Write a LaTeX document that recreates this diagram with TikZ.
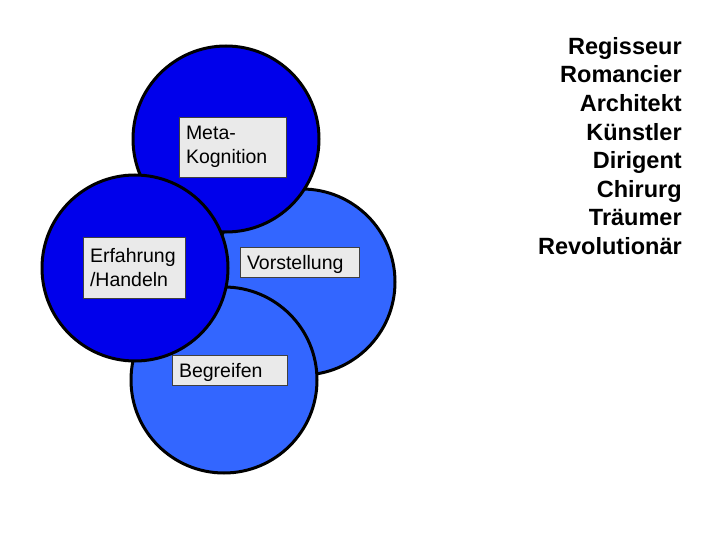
\documentclass[tikz,border=0pt]{standalone}
\usepackage{fontspec}
\setmainfont{Liberation Sans}
\usetikzlibrary{positioning}

\definecolor{darkblue}{RGB}{0,0,235}
\definecolor{lightblue}{RGB}{51,102,255}
\definecolor{boxgray}{RGB}{234,234,234}

\begin{document}
\begin{tikzpicture}[x = 1pt, y = -1pt, semithick]
\tikzstyle{sphere}=[
  circle,
  draw = black,
  line width = 3pt,
  minimum size = 186pt,
  inner sep = 0pt
]
\tikzstyle{labelbox}=[
  draw = black!75,
  fill = boxgray,
  line width = 0.8pt,
  inner xsep = 7pt,
  align = left,
  font = \fontsize{19.5}{24}\selectfont
]
\tikzstyle{oneline}=[
  inner ysep = 3.5pt,
  text height = 19pt,
  text depth = 4pt
]

\useasboundingbox (0,0) rectangle (720,540);

% circles, back to front
\node[sphere, fill = lightblue] (Vor) at (302,282) {};
\node[sphere, fill = darkblue] (Meta) at (226,139) {};
\node[sphere, fill = lightblue] (Beg) at (224,380) {};
\node[sphere, fill = darkblue] (Erf) at (135,268) {};

% labels
\node[labelbox, text width = 93pt, minimum height = 60pt] (MetaL) at (232.5,147) {Meta-\\Kognition};
\node[labelbox, text width = 88pt, minimum height = 61pt] (ErfL) at (134,267.5) {Erfahrung\\/Handeln};
\node[labelbox, oneline, text width = 105pt] (VorL) at (299.5,262) {Vorstellung};
\node[labelbox, oneline, text width = 101pt] (BegL) at (229.5,370) {Begreifen};

% roles
\node[anchor = north east, inner sep = 0pt, align = right,
      font = \fontsize{23.5}{28.6}\selectfont\bfseries] (roles) at (682,37)
  {Regisseur\\Romancier\\Architekt\\Künstler\\Dirigent\\Chirurg\\Träumer\\Revolutionär};
\end{tikzpicture}
\end{document}
